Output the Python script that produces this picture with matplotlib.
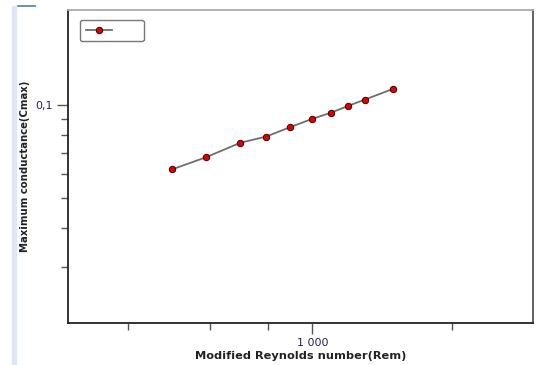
import numpy as np
import matplotlib.pyplot as plt
from matplotlib.ticker import FixedLocator, FixedFormatter, NullFormatter

# data (log-log)
rem = [497, 588, 698, 795, 895, 1000, 1095, 1192, 1296, 1492]
cmax = [0.0619, 0.0677, 0.0754, 0.0790, 0.0847, 0.0901, 0.0942, 0.0990, 0.1038, 0.1124]

x_major = [1000]
x_minor = [400, 600, 800, 2000]
y_major = [0.1]
y_minor = [0.03, 0.04, 0.05, 0.06, 0.07, 0.08, 0.09]

fig = plt.figure(figsize=(5.39, 3.65), dpi=100)
ax = fig.add_axes([0.1262, 0.1151, 0.8627, 0.8575])

ax.plot(rem, cmax, color='#6e6e6e', lw=1.3, marker='o', ms=4.6,
        mfc='#e00000', mec='#400000', mew=0.7, label=' ')

ax.set_xscale('log')
ax.set_yscale('log')
ax.set_xlim(296, 3000)
ax.set_ylim(0.0198, 0.202)

ax.xaxis.set_major_locator(FixedLocator(x_major))
ax.xaxis.set_major_formatter(FixedFormatter(['1 000']))
ax.xaxis.set_minor_locator(FixedLocator(x_minor))
ax.xaxis.set_minor_formatter(NullFormatter())
ax.yaxis.set_major_locator(FixedLocator(y_major))
ax.yaxis.set_major_formatter(FixedFormatter(['0,1']))
ax.yaxis.set_minor_locator(FixedLocator(y_minor))
ax.yaxis.set_minor_formatter(NullFormatter())

ax.tick_params(which='major', direction='out', length=8, width=1, color='#555555',
               labelsize=8, labelcolor='#2b1f5c', pad=3)
ax.tick_params(which='minor', direction='out', length=5, width=1, color='#555555')

for side in ['left', 'bottom']:
    ax.spines[side].set_color('#222222')
    ax.spines[side].set_linewidth(1.3)
ax.spines['top'].set_color('#aaaaaa')
ax.spines['top'].set_linewidth(1.3)
ax.spines['right'].set_color('#555555')
ax.spines['right'].set_linewidth(1.3)

ax.set_xlabel('Modified Reynolds number(Rem)', fontsize=8.2, fontweight='bold',
              color='#222222', labelpad=2)
ax.set_ylabel('Maximum conductance(Cmax)', fontsize=7.3, fontweight='bold',
              color='#222222', labelpad=4)

leg = ax.legend(loc='upper left', bbox_to_anchor=(0.026, 0.968), borderaxespad=0,
                handlelength=2.4, handletextpad=2.0, borderpad=0.5, fontsize=8,
                fancybox=True, framealpha=1, edgecolor='#777777')
leg.get_frame().set_linewidth(1.0)

# page decorations from the screenshot
fig.patches.append(plt.Rectangle((12 / 539, 0), 4 / 539, 1 - 6 / 365,
                                 transform=fig.transFigure, color='#dce6f4', zorder=0))
fig.lines.append(plt.Line2D([18 / 539, 35 / 539], [1 - 6 / 365, 1 - 6 / 365],
                            transform=fig.transFigure, color='#4a7fb5', lw=1.2))

fig.savefig('out.png', dpi=100)
